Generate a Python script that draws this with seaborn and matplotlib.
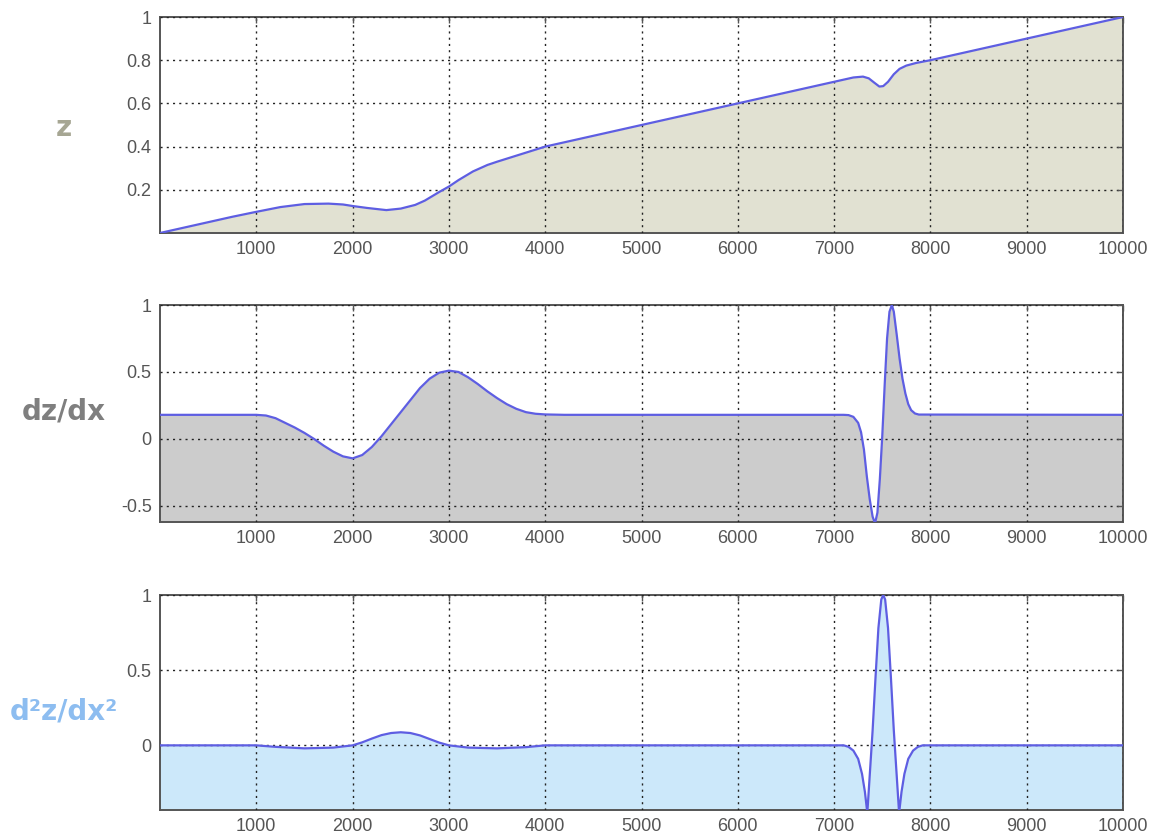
import numpy as np
import pandas as pd
import matplotlib
matplotlib.use("Agg")
import matplotlib.pyplot as plt
import seaborn as sns

# Style settings
sns.set_style("white")
plt.rcParams['font.family'] = ['Liberation Sans', 'DejaVu Sans']

# --- data ---
z_x = [0, 250, 500, 750, 1000, 1250, 1500, 1750, 1900, 2000, 2150, 2350, 2500,
       2650, 2750, 2900, 3000, 3100, 3250, 3400, 3500, 3750, 4000, 4500, 5000,
       5500, 6000, 6500, 7000, 7200, 7300, 7360, 7420, 7470, 7510, 7560, 7620,
       7680, 7750, 7850, 8000, 9000, 10000]
z_y = [0.0, 0.025, 0.05, 0.075, 0.098, 0.12, 0.134, 0.136, 0.132, 0.125, 0.116,
       0.106, 0.113, 0.13, 0.15, 0.19, 0.215, 0.245, 0.285, 0.315, 0.33, 0.365,
       0.40, 0.45, 0.50, 0.55, 0.60, 0.65, 0.70, 0.72, 0.724, 0.716, 0.695,
       0.678, 0.68, 0.70, 0.735, 0.76, 0.775, 0.787, 0.80, 0.90, 1.0]

dz_x = [0, 1000, 1100, 1200, 1300, 1400, 1500, 1600, 1700, 1800, 1900, 2000,
        2100, 2200, 2300, 2400, 2500, 2600, 2700, 2800, 2900, 3000, 3100, 3200,
        3300, 3400, 3500, 3600, 3700, 3800, 3900, 4000, 4200, 7100, 7150, 7200,
        7250, 7280, 7310, 7340, 7370, 7400, 7425, 7450, 7475, 7500, 7525, 7550,
        7575, 7600, 7620, 7650, 7680, 7710, 7740, 7770, 7800, 7840, 7880, 10000]
dz_y = [0.18, 0.18, 0.175, 0.155, 0.12, 0.085, 0.045, 0.0, -0.05, -0.095,
        -0.13, -0.145, -0.12, -0.06, 0.02, 0.11, 0.2, 0.29, 0.38, 0.45, 0.495,
        0.51, 0.5, 0.46, 0.41, 0.355, 0.305, 0.26, 0.225, 0.2, 0.188, 0.183,
        0.18, 0.18, 0.178, 0.165, 0.12, 0.05, -0.08, -0.28, -0.45, -0.58,
        -0.63, -0.55, -0.3, 0.02, 0.4, 0.75, 0.95, 1.0, 0.95, 0.78, 0.6, 0.45,
        0.34, 0.26, 0.215, 0.19, 0.182, 0.18]

d2_x = [0, 1000, 1200, 1500, 1800, 2000, 2100, 2200, 2300, 2400, 2500, 2600,
        2700, 2800, 2900, 3000, 3200, 3500, 3800, 4000, 7100, 7150, 7200, 7250,
        7290, 7320, 7345, 7370, 7400, 7430, 7460, 7490, 7510, 7530, 7560, 7590,
        7620, 7650, 7675, 7700, 7730, 7770, 7820, 7870, 7920, 10000]
d2_y = [0.0, 0.0, -0.01, -0.02, -0.015, 0.0, 0.02, 0.045, 0.068, 0.082, 0.087,
        0.082, 0.066, 0.042, 0.018, 0.0, -0.015, -0.02, -0.012, 0.0, 0.0, -0.01,
        -0.035, -0.09, -0.19, -0.31, -0.45, -0.2, 0.1, 0.45, 0.78, 0.97, 1.0,
        0.97, 0.78, 0.45, 0.1, -0.2, -0.45, -0.31, -0.19, -0.09, -0.035, -0.01,
        0.0, 0.0]

x_ticks = [1000, 2000, 3000, 4000, 5000, 6000, 7000, 8000, 9000, 10000]

panels = [
    # (x, y, ylim, yticks, ytick labels, fill colour, label, label colour, label y)
    (z_x, z_y, (0, 1), [0.2, 0.4, 0.6, 0.8, 1], ['0.2', '0.4', '0.6', '0.8', '1'],
     '#E1E1D2', 'z', '#A6A693', 128),
    (dz_x, dz_y, (-0.62, 1), [-0.5, 0, 0.5, 1], ['-0.5', '0', '0.5', '1'],
     '#CCCCCC', 'dz/dx', '#7F7F7F', 412),
    (d2_x, d2_y, (-0.43, 1), [0, 0.5, 1], ['0', '0.5', '1'],
     '#CCE8FA', 'd²z/dx²', '#8DBDF0', 712),
]
# axes boxes in pixels: top, bottom
boxes = [(17, 233), (305, 522), (595, 810)]

W, H = 1157, 840
fig = plt.figure(figsize=(W / 100, H / 100), dpi=100)
fig.patch.set_facecolor('white')

line_color = '#5E5EE2'
for (xs, ys, ylim, yt, ytl, fc, lab, lc, ly), (top, bot) in zip(panels, boxes):
    ax = fig.add_axes([160 / W, 1 - bot / H, (1123 - 160) / W, (bot - top) / H])
    df = pd.DataFrame({'x': xs, 'y': ys})
    ax.fill_between(df['x'], df['y'], ylim[0] - 1, color=fc, linewidth=0, zorder=1)
    sns.lineplot(data=df, x='x', y='y', ax=ax, color=line_color, linewidth=1.6,
                 zorder=3)
    ax.set_xlim(0, 10000)
    ax.set_ylim(*ylim)
    ax.set_xticks(x_ticks)
    ax.set_xticklabels([str(t) for t in x_ticks])
    ax.set_yticks(yt)
    ax.set_yticklabels(ytl)
    ax.set_xlabel('')
    ax.set_ylabel('')
    ax.set_axisbelow(False)
    ax.grid(True, color='#222222', linestyle=(0, (1.5, 3)), linewidth=1.0)
    ax.tick_params(direction='in', length=4, width=1, color='#555555',
                   labelsize=13, labelcolor='#555555', pad=6,
                   top=True, right=True)
    for s in ax.spines.values():
        s.set_color('#555555')
        s.set_linewidth(1.4)
    fig.text(64 / W, 1 - ly / H, lab, ha='center', va='center', fontsize=20,
             fontweight='bold', color=lc, family=['DejaVu Sans'])

fig.savefig('out.png', dpi=100)
